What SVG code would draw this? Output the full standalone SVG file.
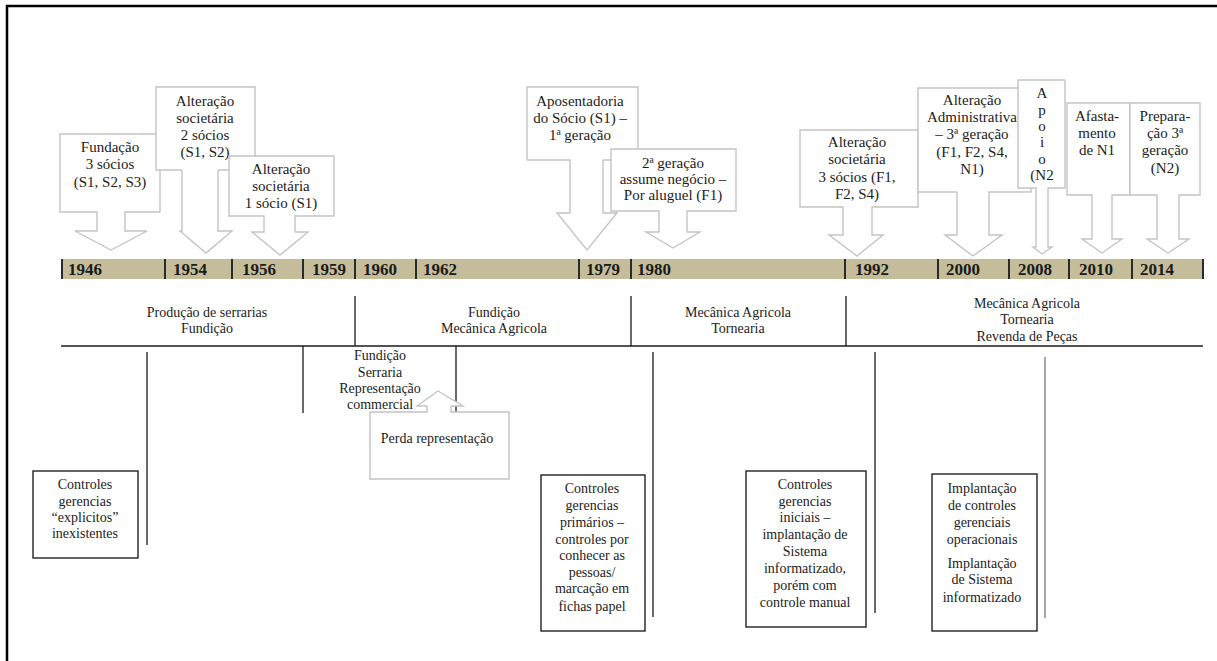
<svg xmlns="http://www.w3.org/2000/svg" width="1217" height="661" viewBox="0 0 1217 661">
<style>
.frame{stroke:#000;stroke-width:2.5;fill:none}
.co{fill:#fff;stroke:#c4c4c4;stroke-width:1.4;stroke-linejoin:miter}
.t{font-family:"Liberation Serif","Times New Roman",serif;font-size:15px;fill:#1c1c1c;text-anchor:middle}
.s{font-family:"Liberation Serif","Times New Roman",serif;font-size:14px;fill:#1c1c1c;text-anchor:middle}
.yr{font-family:"Liberation Serif","Times New Roman",serif;font-size:17px;font-weight:bold;fill:#1a1a1a}
.sep{stroke:#2a2a2a;stroke-width:2}
.ln{stroke:#1a1a1a;stroke-width:1.3;fill:none}
.lg{stroke:#777;stroke-width:1.3;fill:none}
.bx{fill:#fff;stroke:#222;stroke-width:1.4}
</style>
<rect width="1217" height="661" fill="#fff"/>
<path class="frame" d="M7,661 V6 H1217"/>

<g id="timeline">
<rect x="61" y="259" width="1143" height="20" fill="#c5bd99"/>
<g class="sep">
<line x1="62" y1="259" x2="62" y2="279"/><line x1="165" y1="259" x2="165" y2="279"/><line x1="232" y1="259" x2="232" y2="279"/><line x1="303" y1="259" x2="303" y2="279"/><line x1="355" y1="259" x2="355" y2="279"/><line x1="416" y1="259" x2="416" y2="279"/><line x1="579" y1="259" x2="579" y2="279"/><line x1="631" y1="259" x2="631" y2="279"/><line x1="845" y1="259" x2="845" y2="279"/><line x1="938" y1="259" x2="938" y2="279"/><line x1="1009" y1="259" x2="1009" y2="279"/><line x1="1069" y1="259" x2="1069" y2="279"/><line x1="1132" y1="259" x2="1132" y2="279"/><line x1="1203" y1="259" x2="1203" y2="279"/>
</g>
<text class="yr" x="68" y="275">1946</text><text class="yr" x="173" y="275">1954</text><text class="yr" x="242" y="275">1956</text><text class="yr" x="312" y="275">1959</text><text class="yr" x="363" y="275">1960</text><text class="yr" x="423" y="275">1962</text><text class="yr" x="586" y="275">1979</text><text class="yr" x="637" y="275">1980</text><text class="yr" x="855" y="275">1992</text><text class="yr" x="946" y="275">2000</text><text class="yr" x="1018" y="275">2008</text><text class="yr" x="1079" y="275">2010</text><text class="yr" x="1140" y="275">2014</text>
</g>

<g id="c1946">
<path class="co" d="M60,134 H160 V212 H125 V231 H147 L111,250 L75,231 H97 V212 H60 Z"/>
<text class="t" x="110" y="152">Fundação</text><text class="t" x="110" y="169">3 sócios</text><text class="t" x="110" y="187">(S1, S2, S3)</text>
</g>
<g id="c1954">
<path class="co" d="M156,87 H255 V170 H218 V231 H232 L206,253 L180,231 H182 V170 H156 Z"/>
<text class="t" x="205" y="106">Alteração</text><text class="t" x="205" y="123">societária</text><text class="t" x="205" y="140">2 sócios</text><text class="t" x="205" y="157">(S1, S2)</text>
</g>
<g id="c1956">
<path class="co" d="M229,156 H334 V216 H295 V232 H308 L280,255 L252,232 H264 V216 H229 Z"/>
<text class="t" x="281" y="174">Alteração</text><text class="t" x="281" y="191">societária</text><text class="t" x="281" y="208">1 sócio (S1)</text>
</g>
<g id="c1979">
<path class="co" d="M527,87 H638 V160 H603 V213 H617 L587,250 L557,213 H570 V160 H527 Z"/>
<text class="t" x="580" y="106">Aposentadoria</text><text class="t" x="580" y="123">do Sócio (S1) –</text><text class="t" x="580" y="140">1ª geração</text>
</g>
<g id="c1980">
<path class="co" d="M611,149 H736 V211 H687 V232 H700 L673,248 L646,232 H659 V211 H611 Z"/>
<text class="t" x="673" y="168">2ª geração</text><text class="t" x="673" y="184">assume negócio –</text><text class="t" x="673" y="200">Por aluguel (F1)</text>
</g>
<g id="c1992">
<path class="co" d="M800,130 H918 V207 H872 V235 H883 L857,256 L829,235 H843 V207 H800 Z"/>
<text class="t" x="857" y="147">Alteração</text><text class="t" x="857" y="164">societária</text><text class="t" x="857" y="182">3 sócios (F1,</text><text class="t" x="857" y="199">F2, S4)</text>
</g>
<g id="c2000">
<path class="co" d="M918,88 H1031 V192 H989 V235 H1002 L973,256 L945,235 H957 V192 H918 Z"/>
<text class="t" x="972" y="105">Alteração</text><text class="t" x="972" y="122">Administrativa</text><text class="t" x="972" y="139">– 3ª geração</text><text class="t" x="972" y="157">(F1, F2, S4,</text><text class="t" x="972" y="174">N1)</text>
</g>
<g id="c2008">
<path class="co" d="M1018,80 H1065 V188 H1048 V247 H1052 L1042,254 L1033,247 H1036 V188 H1018 Z"/>
<text class="t" x="1042" y="98">A</text><text class="t" x="1042" y="115">p</text><text class="t" x="1042" y="131">o</text><text class="t" x="1042" y="147">i</text><text class="t" x="1042" y="164">o</text><text class="t" x="1042" y="180">(N2</text>
</g>
<g id="c2010">
<path class="co" d="M1067,103 H1130 V195 H1112 V239 H1122 L1102,253 L1082,239 H1092 V195 H1067 Z"/>
<text class="t" x="1097" y="121">Afasta-</text><text class="t" x="1097" y="138">mento</text><text class="t" x="1097" y="155">de N1</text>
</g>
<g id="c2014">
<path class="co" d="M1130,103 H1200 V195 H1179 V239 H1189 L1168,253 L1147,239 H1157 V195 H1130 Z"/>
<text class="t" x="1165" y="121">Prepara-</text><text class="t" x="1165" y="138">ção 3ª</text><text class="t" x="1165" y="155">geração</text><text class="t" x="1165" y="173">(N2)</text>
</g>

<g id="connectors">
<line class="ln" x1="61" y1="346" x2="1203" y2="346"/>
<line class="ln" x1="355" y1="296" x2="355" y2="346"/>
<line class="ln" x1="631" y1="296" x2="631" y2="346"/>
<line class="ln" x1="846" y1="296" x2="846" y2="346"/>
<line class="ln" x1="147" y1="352" x2="147" y2="545"/>
<line class="ln" x1="303" y1="346" x2="303" y2="413"/>
<line class="ln" x1="456" y1="346" x2="456" y2="413"/>
<line class="ln" x1="653" y1="352" x2="653" y2="617"/>
<line class="ln" x1="875" y1="352" x2="875" y2="613"/>
<line class="lg" x1="1045" y1="357" x2="1045" y2="618"/>
</g>

<g id="sections">
<text class="s" x="207" y="317">Produção de serrarias</text><text class="s" x="207" y="333">Fundição</text>
<text class="s" x="494" y="317">Fundição</text><text class="s" x="494" y="333">Mecânica Agricola</text>
<text class="s" x="738" y="317">Mecânica Agricola</text><text class="s" x="738" y="333">Tornearia</text>
<text class="s" x="1027" y="308">Mecânica Agricola</text><text class="s" x="1027" y="324">Tornearia</text><text class="s" x="1027" y="341">Revenda de Peças</text>
</g>
<g id="fundicao1960">
<text class="s" x="380" y="360">Fundição</text><text class="s" x="380" y="377">Serraria</text><text class="s" x="380" y="393">Representação</text><text class="s" x="380" y="409">commercial</text>
</g>
<g id="perda">
<path class="co" d="M370,412 H427 V406 H417 L438,391 L463,406 H451 V412 H509 V479 H370 Z"/>
<text class="s" x="437" y="443">Perda representação</text>
</g>

<g id="b1">
<rect class="bx" x="33" y="471" width="105" height="87"/>
<text class="s" x="85" y="489">Controles</text><text class="s" x="85" y="506">gerencias</text><text class="s" x="85" y="522">“explicitos”</text><text class="s" x="85" y="538">inexistentes</text>
</g>
<g id="b2">
<rect class="bx" x="541" y="475" width="104" height="156"/>
<text class="s" x="592" y="493">Controles</text><text class="s" x="592" y="510">gerencias</text><text class="s" x="592" y="527">primários –</text><text class="s" x="592" y="544">controles por</text><text class="s" x="592" y="560">conhecer as</text><text class="s" x="592" y="577">pessoas/</text><text class="s" x="592" y="593">marcação em</text><text class="s" x="592" y="611">fichas papel</text>
</g>
<g id="b3">
<rect class="bx" x="746" y="471" width="120" height="156"/>
<text class="s" x="805" y="489">Controles</text><text class="s" x="805" y="506">gerencias</text><text class="s" x="805" y="522">iniciais –</text><text class="s" x="805" y="539">implantação de</text><text class="s" x="805" y="556">Sistema</text><text class="s" x="805" y="573">informatizado,</text><text class="s" x="805" y="590">porém com</text><text class="s" x="805" y="607">controle manual</text>
</g>
<g id="b4">
<rect class="bx" x="932" y="474" width="105" height="157"/>
<text class="s" x="982" y="493">Implantação</text><text class="s" x="982" y="510">de controles</text><text class="s" x="982" y="527">gerenciais</text><text class="s" x="982" y="544">operacionais</text><text class="s" x="982" y="568">Implantação</text><text class="s" x="982" y="584">de Sistema</text><text class="s" x="982" y="602">informatizado</text>
</g>
</svg>
